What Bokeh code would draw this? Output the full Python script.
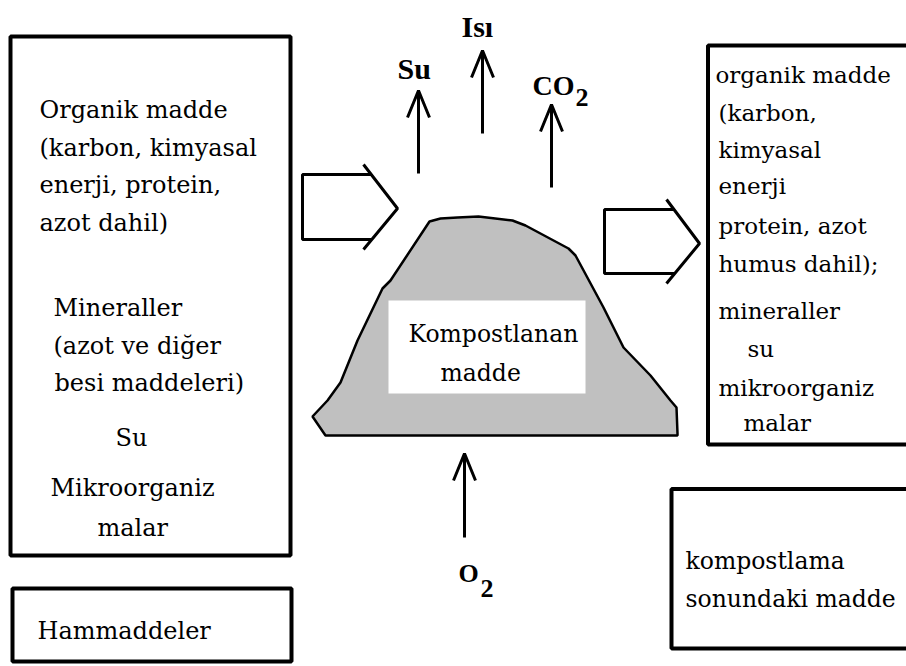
from bokeh.plotting import figure
from bokeh.models import Range1d, ColumnDataSource
from bokeh.core.properties import value
from bokeh.embed import file_html
from bokeh.resources import INLINE

# ---- diagram data (reference pixel coordinates) ----
# frame boxes: left, top, right, bottom
box_left = [10, 12, 707.5, 671]
box_top = [36, 588, 45, 488.5]
box_right = [290, 291, 912, 912]
box_bottom = [555, 661, 444, 648]

# compost pile outline
pile_x = [429, 440, 457, 478, 512, 525, 568, 575, 603, 623, 650, 670, 676, 677,
          677, 325, 312, 327, 340, 357, 382, 390]
pile_y = [221, 218, 217, 216, 220, 225, 248, 255, 307, 347, 375, 400, 407, 433,
          435, 435, 416, 400, 382, 340, 288, 280]

# white label panel on the pile
panel = dict(left=[388], right=[585], top=[300], bottom=[393])

# block arrows (open outline): body lines + chevron
block_body_x = [[371, 302, 302, 371], [674, 604, 604, 674]]
block_body_y = [[174, 174, 239, 239], [209, 209, 273, 273]]
block_head_x = [[363, 397, 363], [666, 699, 666]]
block_head_y = [[164, 208, 249], [199, 243, 283]]

# thin arrows: x, tail y, tip y
arrow_x = [418, 482, 551, 464]
arrow_tail = [173, 133, 187, 537]
arrow_tip = [90, 50, 104, 453]
head_half = 11
head_len = 27

# regular texts: left box (inputs)
left_txt = ["Organik madde", "(karbon, kimyasal", "enerji, protein,", "azot dahil)",
            "Mineraller", "(azot ve diğer", "besi maddeleri)", "Su",
            "Mikroorganiz", "malar", "Hammaddeler"]
left_x = [39, 39, 39, 39, 53, 53, 54, 115, 50, 97, 37]
left_y = [109, 147, 184, 222, 307, 345, 382, 437, 487, 527, 630]

# right box (outputs)
right_txt = ["organik madde", "(karbon,", "kimyasal", "enerji", "protein, azot",
             "humus dahil);", "mineraller", "su", "mikroorganiz", "malar"]
right_x = [715, 718, 718, 718, 718, 718, 718, 747, 718, 743]
right_y = [74, 112, 149, 185, 225, 263, 310, 348, 387, 422]

# other labels
other_txt = ["kompostlama", "sonundaki madde", "Kompostlanan", "madde"]
other_x = [685, 685, 408, 440]
other_y = [560, 598, 333, 372]

# bold labels (gas flows)
bold_txt = ["Su", "Isı", "CO", "O"]
bold_x = [397, 461, 532, 458]
bold_y = [68, 26, 85, 573]
bold_size = ["30px", "30px", "28px", "26px"]
sub_txt = ["2", "2"]
sub_x = [575, 480]
sub_y = [97, 588]

REG = value("DejaVu Serif")
BOLD = value("Liberation Serif")

# ---- figure ----
p = figure(width=906, height=666, output_backend="svg", toolbar_location=None,
           x_range=Range1d(0, 906), y_range=Range1d(666, 0), min_border=0)
p.axis.visible = False
p.grid.visible = False
p.outline_line_color = None
p.background_fill_color = "white"
p.border_fill_color = "white"

p.quad(left=box_left, right=box_right, top=box_top, bottom=box_bottom,
       fill_color=None, line_color="black", line_width=4)
p.patch(pile_x, pile_y, fill_color="#c0c0c0", line_color="black", line_width=2.5)
p.quad(left=panel["left"], right=panel["right"], top=panel["top"],
       bottom=panel["bottom"], fill_color="white", line_color=None)
p.multi_line(block_body_x, block_body_y, line_color="black", line_width=3)
p.multi_line(block_head_x, block_head_y, line_color="black", line_width=3)

shaft_xs = [[x, x] for x in arrow_x]
shaft_ys = [[t, h] for t, h in zip(arrow_tail, arrow_tip)]
p.multi_line(shaft_xs, shaft_ys, line_color="black", line_width=3)
head_xs = [[x - head_half, x, x + head_half] for x in arrow_x]
head_ys = [[h + head_len, h, h + head_len] for h in arrow_tip]
p.multi_line(head_xs, head_ys, line_color="black", line_width=3)

p.text(x=left_x, y=left_y, text=left_txt, text_font=REG,
       text_font_size="24px", text_color="black", text_align="left",
       text_baseline="alphabetic")
p.text(x=right_x, y=right_y, text=right_txt, text_font=REG,
       text_font_size="23px", text_color="black", text_align="left",
       text_baseline="alphabetic")
p.text(x=other_x, y=other_y, text=other_txt, text_font=REG,
       text_font_size="23.5px", text_color="black",
       text_align="left", text_baseline="alphabetic")

bsrc = ColumnDataSource(dict(x=bold_x, y=bold_y, t=bold_txt, s=bold_size))
p.text(x="x", y="y", text="t", source=bsrc, text_font=BOLD,
       text_font_size="s", text_font_style="bold", text_color="black",
       text_align="left", text_baseline="alphabetic")
p.text(x=sub_x, y=sub_y, text=sub_txt, text_font=BOLD,
       text_font_size="26px", text_font_style="bold", text_color="black",
       text_align="left", text_baseline="alphabetic")

open("out.html", "w").write(file_html(p, INLINE))
